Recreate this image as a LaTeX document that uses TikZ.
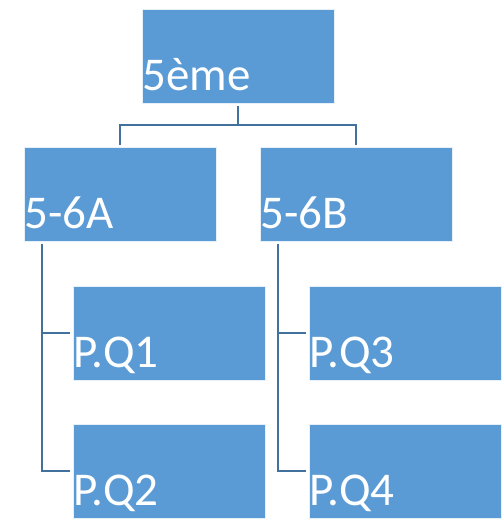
\documentclass[tikz,border=0pt]{standalone}
\usepackage{fontspec}
\setmainfont{Carlito}
\usepackage{xcolor}
\definecolor{boxblue}{HTML}{5B9BD5}
\definecolor{lineblue}{HTML}{41719C}
\tikzset{
  orgbox/.style={rectangle, fill=boxblue, draw=white!85!boxblue, line width=0.6pt,
    inner xsep=0.5pt, inner ysep=0pt, text width=191pt, align=left,
    text height=81pt, text depth=13pt, text=white,
    font=\fontsize{47}{56}\selectfont},
  link/.style={draw=lineblue, line width=2.3pt}
}
\begin{document}
\begin{tikzpicture}[x=1pt,y=-1pt]
		\useasboundingbox (0,0) rectangle (503,519);
		
		\node[orgbox] (root) at (238,56) {5ème};
		\node[orgbox] (classA) at (120,194) {5-6A};
		\node[orgbox] (classB) at (356,194) {5-6B};
		
		\node[orgbox] (pq1) at (169,333) {P.Q1};
		\node[orgbox] (pq2) at (169,471) {P.Q2};
		\node[orgbox] (pq3) at (405,333) {P.Q3};
		\node[orgbox] (pq4) at (405,471) {P.Q4};
		
		\draw[link, shorten <=3pt, shorten >=2pt] (root.south) -- ++(0,22) -| (classA.north);
		\draw[link, shorten <=3pt, shorten >=2pt] (root.south) -- ++(0,22) -| (classB.north);
		
		\draw[link, shorten <=3pt, shorten >=3pt] ([xshift=18pt]classA.south west) |- (pq1.west);
		\draw[link, shorten <=3pt, shorten >=3pt] ([xshift=18pt]classA.south west) |- (pq2.west);
		\draw[link, shorten <=3pt, shorten >=3pt] ([xshift=18pt]classB.south west) |- (pq3.west);
		\draw[link, shorten <=3pt, shorten >=3pt] ([xshift=18pt]classB.south west) |- (pq4.west);
	\end{tikzpicture}
\end{document}
